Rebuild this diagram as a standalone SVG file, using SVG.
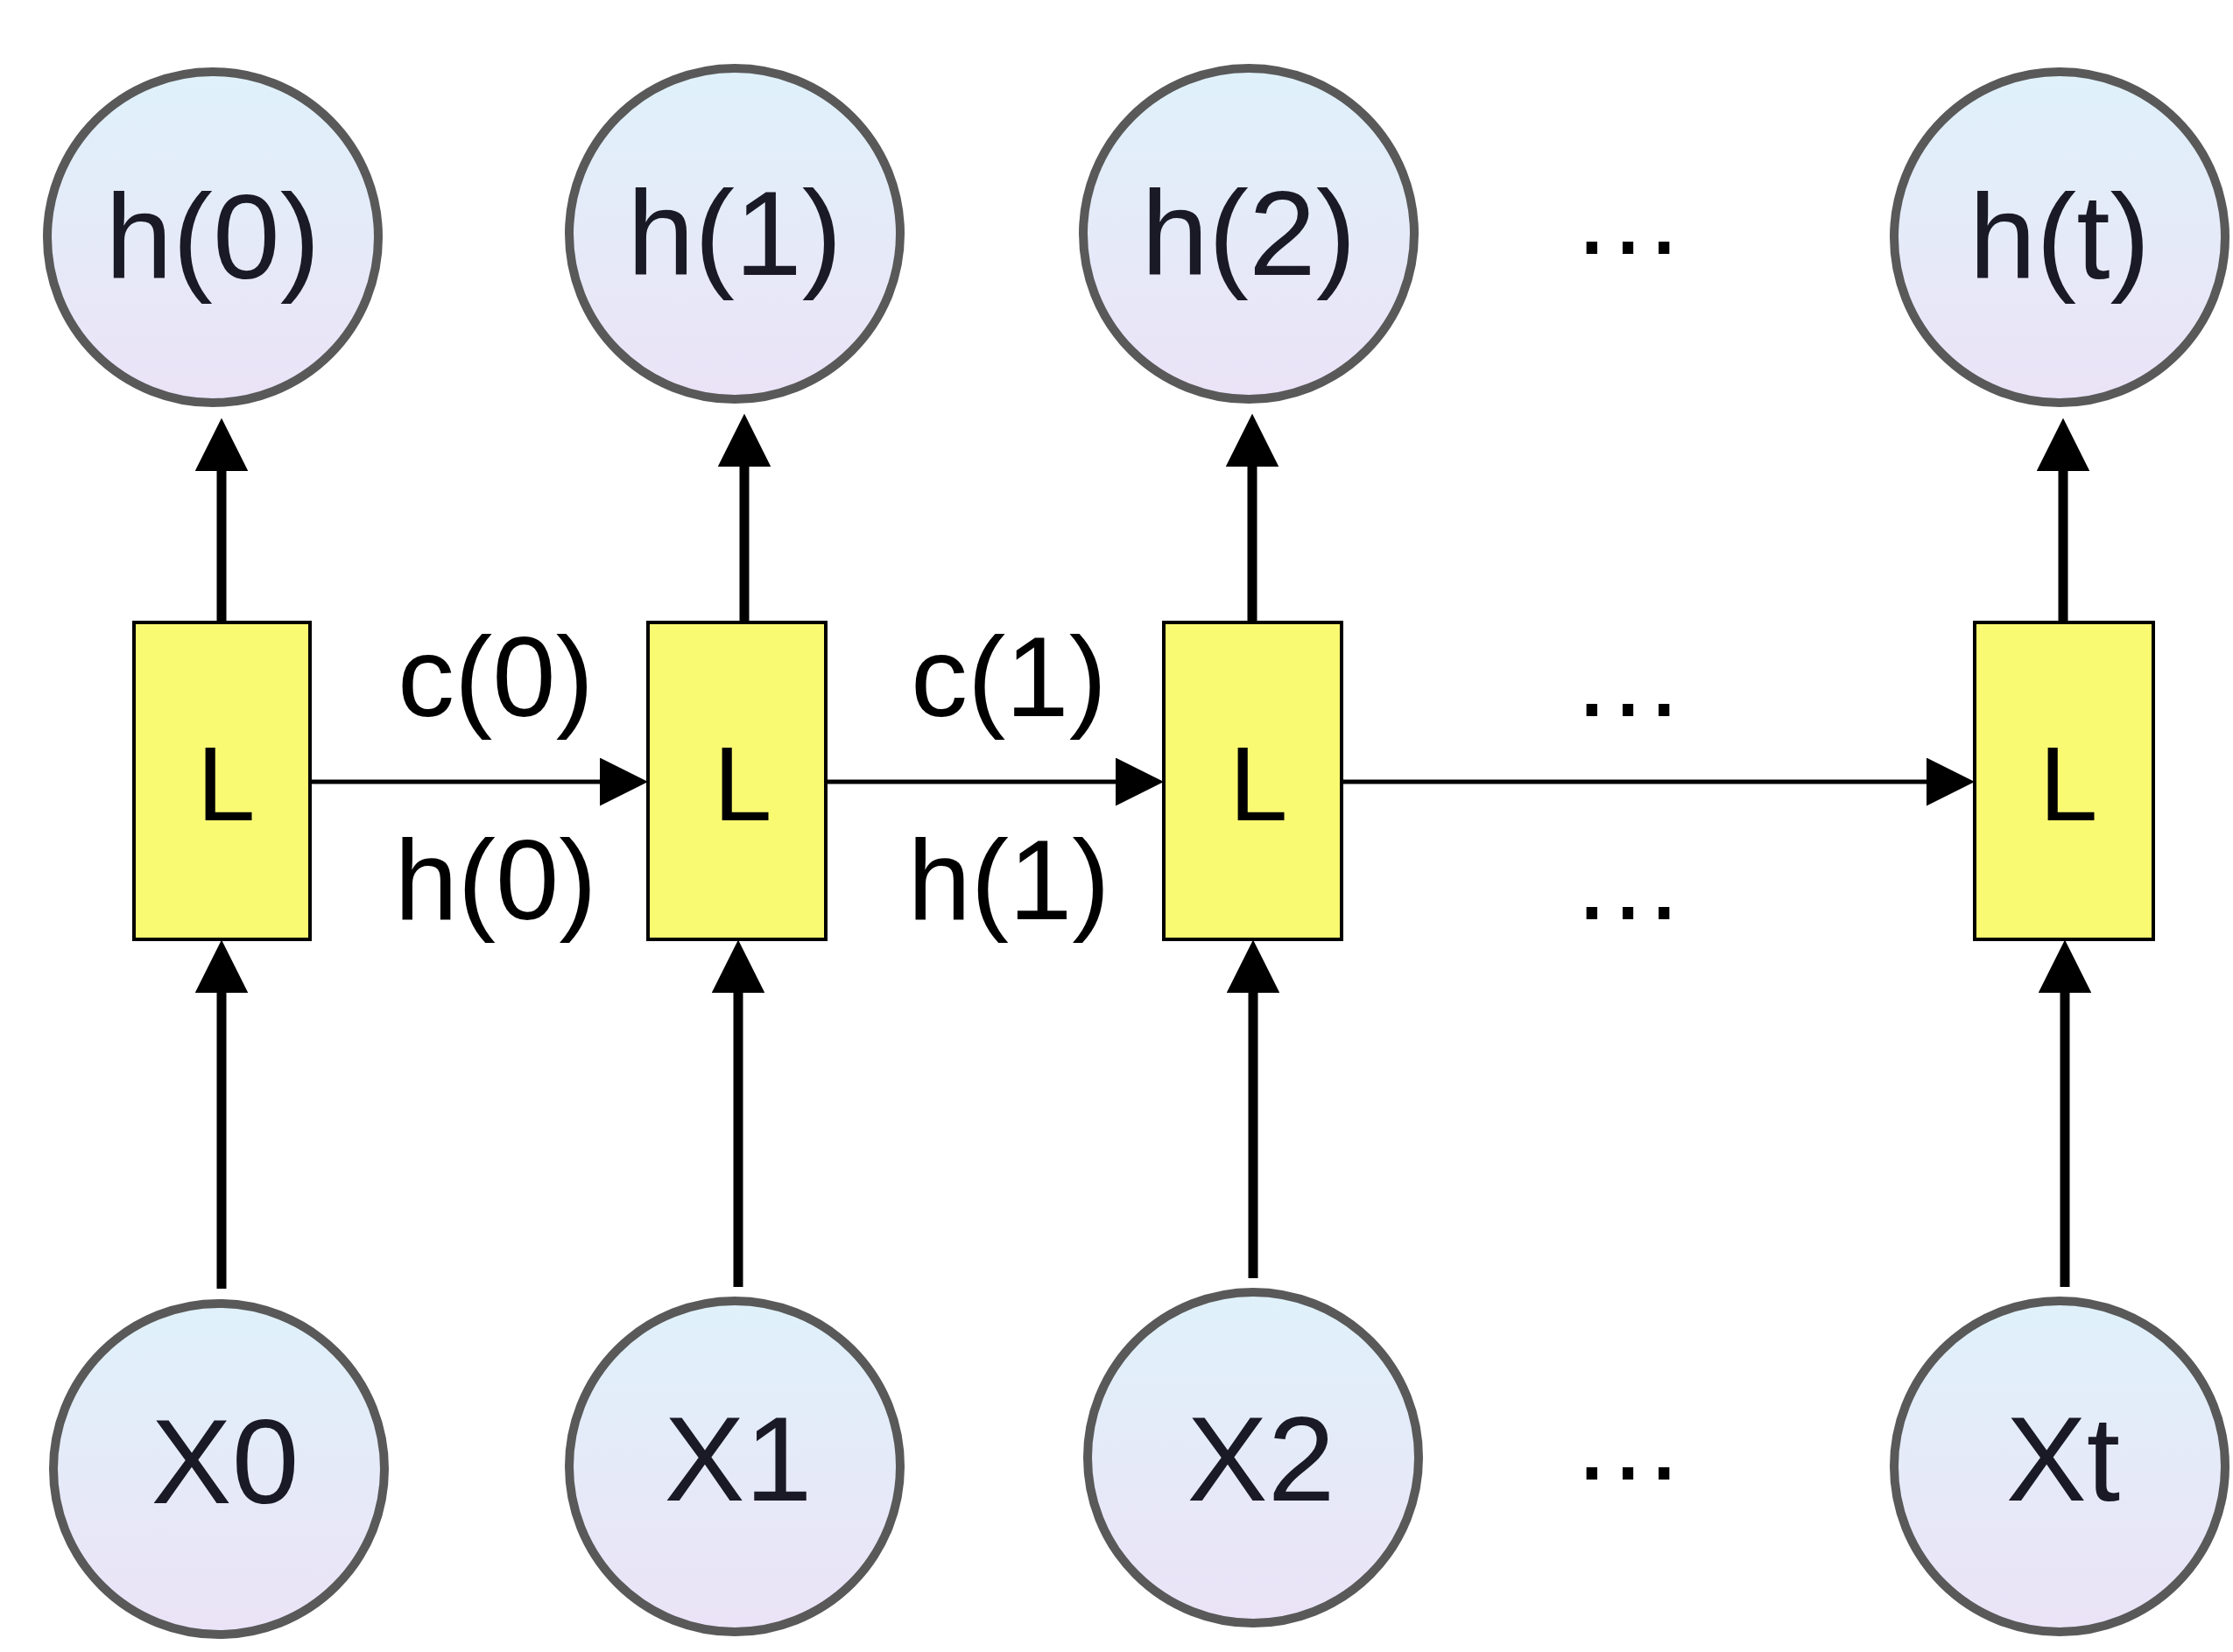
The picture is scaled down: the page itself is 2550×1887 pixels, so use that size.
<svg xmlns="http://www.w3.org/2000/svg" width="2550" height="1887" viewBox="0 0 2550 1887">
<style>
.c{stroke:#595959;stroke-width:10;fill:url(#g)}
.b{fill:#fafa72;stroke:#000;stroke-width:4}
.t{font-family:"Liberation Sans",Arial,sans-serif;fill:#1a1a26;text-anchor:middle}
.ct{font-size:138px}
.lt{font-size:120px;fill:#000}
.et{font-size:130px;fill:#000}
.v{stroke:#000;stroke-width:11;fill:none;marker-end:url(#a)}
.hz{stroke:#000;stroke-width:5;fill:none;marker-end:url(#a2)}
</style>
<defs>
<linearGradient id="g" x1="0" y1="0" x2="0" y2="1"><stop offset="0" stop-color="#dff1fa"/><stop offset="1" stop-color="#ebe3f7"/></linearGradient>
<marker id="a" viewBox="0 0 10 10" refX="0" refY="5" markerWidth="5.5" markerHeight="5.5" markerUnits="strokeWidth" orient="auto"><path d="M0,0L10,5L0,10z" fill="#000"/></marker>
<marker id="a2" viewBox="0 0 10 10" refX="0" refY="5" markerWidth="11" markerHeight="11" markerUnits="strokeWidth" orient="auto"><path d="M0,0L10,5L0,10z" fill="#000"/></marker>
</defs>
<g id="connectors">
<path class="v" d="M253 711V538"/><path class="v" d="M850 711V533"/><path class="v" d="M1430 711V533"/><path class="v" d="M2356 711V538"/>
<path class="v" d="M253 1472V1134"/><path class="v" d="M843 1470V1134"/><path class="v" d="M1431 1460V1134"/><path class="v" d="M2358 1470V1134"/>
<path class="hz" d="M354 893H685"/><path class="hz" d="M943 893H1274"/><path class="hz" d="M1532 893H2200"/>
</g>
<g id="h0"><circle class="c" cx="243" cy="271" r="189"/><text class="t ct" x="243" y="318">h(0)</text></g>
<g id="h1"><circle class="c" cx="839" cy="267" r="189"/><text class="t ct" x="839" y="314">h(1)</text></g>
<g id="h2"><circle class="c" cx="1426" cy="267" r="189"/><text class="t ct" x="1426" y="314">h(2)</text></g>
<g id="ht"><circle class="c" cx="2352" cy="271" r="189"/><text class="t ct" x="2352" y="318">h(t)</text></g>
<g id="x0"><circle class="c" cx="250" cy="1678" r="189"/><text class="t ct" x="257" y="1717">X0</text></g>
<g id="x1"><circle class="c" cx="839" cy="1675" r="189"/><text class="t ct" x="843" y="1714">X1</text></g>
<g id="x2"><circle class="c" cx="1431" cy="1665" r="189"/><text class="t ct" x="1440" y="1714">X2</text></g>
<g id="xt"><circle class="c" cx="2352" cy="1675" r="189"/><text class="t ct" x="2356" y="1714">Xt</text></g>
<g id="L0"><rect class="b" x="153" y="711" width="201" height="362"/><text class="t lt" x="258" y="937">L</text></g>
<g id="L1"><rect class="b" x="740" y="711" width="203" height="362"/><text class="t lt" x="848" y="937">L</text></g>
<g id="L2"><rect class="b" x="1329" y="711" width="203" height="362"/><text class="t lt" x="1437" y="937">L</text></g>
<g id="Lt"><rect class="b" x="2255" y="711" width="204" height="362"/><text class="t lt" x="2362" y="937">L</text></g>
<g id="labels">
<text class="t et" x="566" y="818">c(0)</text><text class="t et" x="566" y="1050">h(0)</text>
<text class="t et" x="1152" y="818">c(1)</text><text class="t et" x="1152" y="1050">h(1)</text>
<text class="t et" x="1859" y="290">…</text><text class="t et" x="1859" y="818">…</text><text class="t et" x="1859" y="1050">…</text><text class="t et" x="1859" y="1690">…</text>
</g>
</svg>
